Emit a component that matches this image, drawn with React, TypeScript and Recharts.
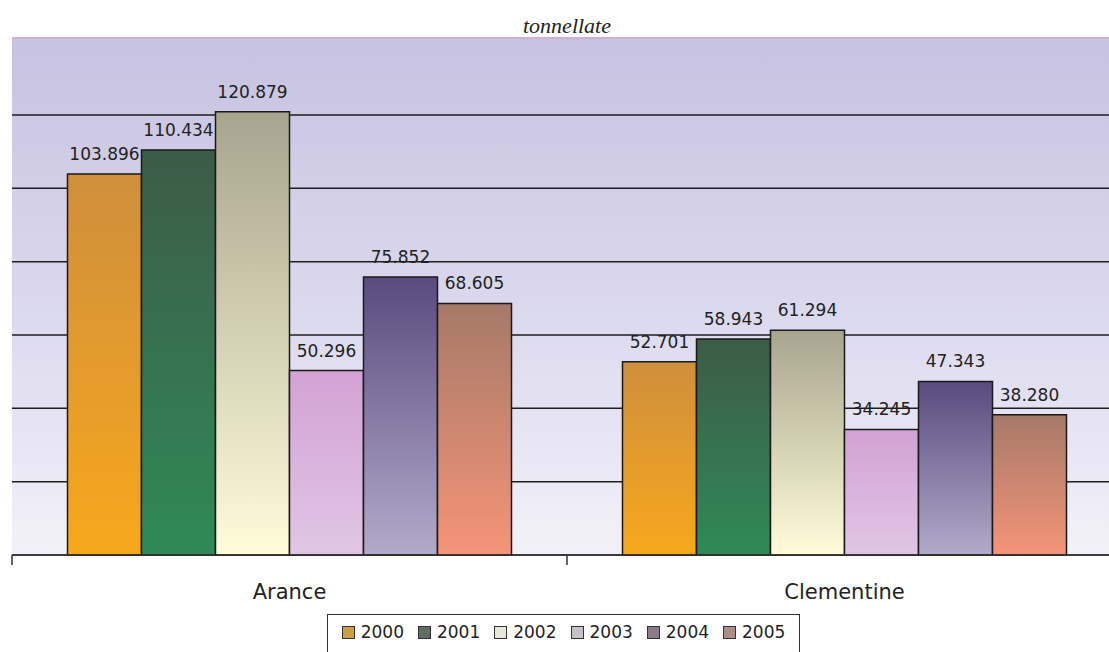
import { BarChart, Bar, XAxis, YAxis, CartesianGrid, LabelList, Legend, ReferenceLine } from 'recharts';

const categories = ['Arance', 'Clementine'];
const years = ['2000', '2001', '2002', '2003', '2004', '2005'];
const arance = [103896, 110434, 120879, 50296, 75852, 68605];
const clementine = [52701, 58943, 61294, 34245, 47343, 38280];
const yTicks = [0, 20000, 40000, 60000, 80000, 100000, 120000];

// top / bottom colours of each bar gradient
const barTop = ['#cf8f3c', '#3d5b46', '#a9a48e', '#d2a2d2', '#5b4a7e', '#a57a68'];
const barBottom = ['#f7a81c', '#2f8a58', '#fffcda', '#e0c6e6', '#b2aaca', '#f59478'];
const swatch = ['#c9a044', '#5e6e5f', '#e8e6d8', '#c8c0c8', '#8a7a8a', '#a88f87'];

const seriesValues = [arance, clementine];
const data = categories.map((name, i) => {
  const row: Record<string, string | number> = { name };
  years.forEach((y, j) => {
    row[y] = seriesValues[i][j];
  });
  return row;
});

const fmt = (v: any) => {
  const n = Number(v);
  const k = Math.floor(n / 1000);
  const r = String(n % 1000).padStart(3, '0');
  return `${k}.${r}`;
};

const CategoryTick = (props: any) => {
  const { x, y, payload } = props;
  const half = payload?.offset ?? 277;
  return (
    <g>
      <line x1={x - half} y1={y} x2={x - half} y2={y + 10} stroke="#333" strokeWidth={1.5} />
      <text x={x} y={y + 44} textAnchor="middle" fill="#222" fontSize={21} fontFamily="DejaVu Sans, sans-serif">
        {payload.value}
      </text>
    </g>
  );
};

const renderLegend = () => (
  <div
    style={{
      display: 'flex',
      alignItems: 'center',
      justifyContent: 'center',
      gap: 14,
      width: 473,
      height: 42,
      boxSizing: 'border-box',
      border: '1.5px solid #333',
      background: '#fff',
      fontFamily: 'DejaVu Sans, sans-serif',
      fontSize: 17,
      color: '#222',
      paddingBottom: 6,
    }}
  >
    {years.map((y, i) => (
      <span key={y} style={{ display: 'flex', alignItems: 'center', gap: 6 }}>
        <span style={{ width: 11, height: 11, background: swatch[i], border: '1px solid #333', display: 'inline-block' }} />
        {y}
      </span>
    ))}
  </div>
);

export default function App() {
  return (
    <div style={{ position: 'absolute', left: 0, top: 0, width: 1109, height: 652, overflow: 'hidden', background: '#fff' }}>
      <div
        style={{
          position: 'absolute',
          top: 13,
          left: 12,
          width: 1110,
          textAlign: 'center',
          fontFamily: 'Liberation Serif, serif',
          fontStyle: 'italic',
          fontSize: 22,
          color: '#222',
        }}
      >
        tonnellate
      </div>
      <BarChart
        width={1122}
        height={652}
        data={data}
        margin={{ top: 38, right: 0, left: 12, bottom: 57 }}
        barCategoryGap="10%"
        barGap={0}
      >
        <defs>
          <linearGradient id="plotBg" x1="0" y1="0" x2="0" y2="1">
            <stop offset="0%" stopColor="#c7c2e0" />
            <stop offset="55%" stopColor="#dcdaee" />
            <stop offset="100%" stopColor="#f3f1f8" />
          </linearGradient>
          {years.map((y, i) => (
            <linearGradient key={y} id={`bar${y}`} x1="0" y1="0" x2="0" y2="1">
              <stop offset="0%" stopColor={barTop[i]} />
              <stop offset="100%" stopColor={barBottom[i]} />
            </linearGradient>
          ))}
        </defs>
        <CartesianGrid vertical={false} stroke="#1e1e1e" strokeWidth={1.5} fill="url(#plotBg)" fillOpacity={1} />
        <YAxis hide domain={[0, 141000]} ticks={yTicks} />
        <XAxis
          dataKey="name"
          height={40}
          tickSize={0}
          tickMargin={0}
          tickLine={false}
          axisLine={{ stroke: '#333', strokeWidth: 1.5 }}
          tick={<CategoryTick />}
        />
        <ReferenceLine y={141000} stroke="#d2b0d0" strokeWidth={2} />
        {years.map((y) => (
          <Bar key={y} dataKey={y} fill={`url(#bar${y})`} stroke="#1a1a1a" strokeWidth={1.5} isAnimationActive={false}>
            <LabelList
              dataKey={y}
              position="top"
              offset={14}
              formatter={fmt}
              fill="#222"
              fontSize={17}
              fontFamily="DejaVu Sans, sans-serif"
            />
          </Bar>
        ))}
        <Legend
          layout="horizontal"
          verticalAlign="middle"
          align="center"
          content={renderLegend}
          wrapperStyle={{ position: 'absolute', top: 614, left: 327, width: 473, height: 42 }}
        />
      </BarChart>
    </div>
  );
}
